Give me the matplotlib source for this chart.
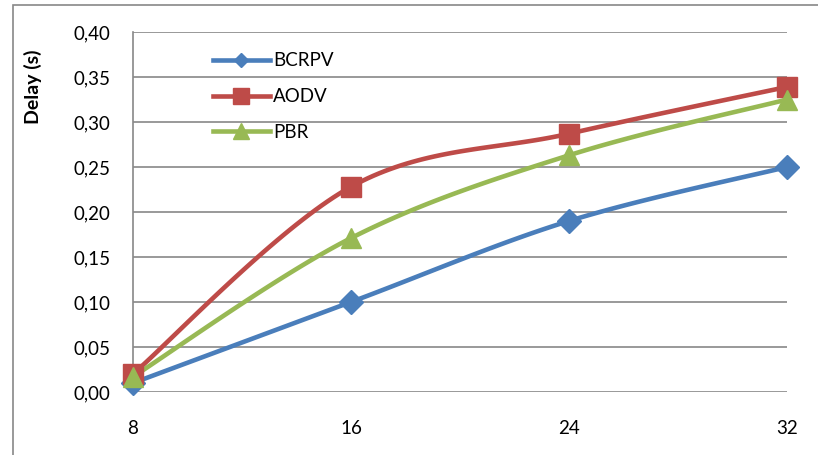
import matplotlib.pyplot as plt
import numpy as np
from matplotlib.patches import Rectangle

plt.rcParams['font.family'] = ['Lato', 'DejaVu Sans']

nodes = [8, 16, 24, 32]
bcrpv = [0.01, 0.10, 0.19, 0.25]
aodv = [0.02, 0.228, 0.287, 0.339]
pbr = [0.017, 0.171, 0.263, 0.325]
y_ticks = [0.00, 0.05, 0.10, 0.15, 0.20, 0.25, 0.30, 0.35, 0.40]


def smooth(xs, ys, n=40):
    # bezier curve through the points, like excel's smoothed line
    xs = np.asarray(xs, float)
    ys = np.asarray(ys, float)
    px = np.concatenate([[xs[0]], xs, [xs[-1]]])
    py = np.concatenate([[ys[0]], ys, [ys[-1]]])
    out_x, out_y = [], []
    t = np.linspace(0, 1, n)
    for i in range(1, len(px) - 2):
        p0 = np.array([px[i], py[i]])
        p3 = np.array([px[i + 1], py[i + 1]])
        p1 = p0 + (np.array([px[i + 1], py[i + 1]]) - np.array([px[i - 1], py[i - 1]])) / 6
        p2 = p3 - (np.array([px[i + 2], py[i + 2]]) - np.array([px[i], py[i]])) / 6
        b = ((1 - t) ** 3)[:, None] * p0 + (3 * (1 - t) ** 2 * t)[:, None] * p1 \
            + (3 * (1 - t) * t ** 2)[:, None] * p2 + (t ** 3)[:, None] * p3
        out_x.extend(b[:, 0])
        out_y.extend(b[:, 1])
    return out_x, out_y


fig = plt.figure(figsize=(8.18, 4.55), dpi=100)
ax = fig.add_axes([133 / 818, (455 - 392) / 455, (787 - 133) / 818, (392 - 32) / 455])

fig.patches.append(Rectangle((13 / 818, -0.1), 1.2, (455 - 5) / 455 + 0.1,
                             transform=fig.transFigure, fill=False,
                             edgecolor='#888888', linewidth=1.2))

series = [
    ("BCRPV", bcrpv, '#4A7EBB', 'D', 12, 7),
    ("AODV", aodv, '#BE4B48', 's', 14, 11),
    ("PBR", pbr, '#98B954', '^', 15, 11),
]
for name, vals, col, mk, ms, lms in series:
    sx, sy = smooth(nodes, vals)
    ax.plot(sx, sy, color=col, linewidth=3.3, solid_capstyle='round', zorder=3)
    ax.plot(nodes, vals, linestyle='none', marker=mk, markersize=ms, color=col,
            clip_on=False, zorder=4)
    # legend proxy
    ax.plot([], [], color=col, linewidth=3.3, marker=mk, markersize=lms, label=name)

ax.set_xlim(8, 32)
ax.set_ylim(0, 0.40)
ax.set_xticks(nodes)
ax.set_xticklabels([str(n) for n in nodes])
ax.set_yticks(y_ticks)
ax.set_yticklabels([("%.2f" % v).replace('.', ',') for v in y_ticks])
ax.tick_params(length=0, labelsize=13.5)
ax.tick_params(axis='y', pad=16)
ax.tick_params(axis='x', pad=20)
ax.grid(axis='y', color='#888888', linewidth=1.2)
ax.set_axisbelow(True)
for side in ['top', 'right', 'bottom']:
    ax.spines[side].set_visible(False)
ax.spines['left'].set_color('#888888')
ax.spines['left'].set_linewidth(1.2)

ax.set_ylabel("Delay (s)", fontsize=14, fontweight='bold')
ax.yaxis.set_label_coords(-0.139, 0.847)

ax.legend(loc='upper left', bbox_to_anchor=(0.097, 0.99), frameon=False, fontsize=13.5,
          handlelength=3.0, handletextpad=0.2, labelspacing=1.0)

fig.savefig('out.png', dpi=100)
